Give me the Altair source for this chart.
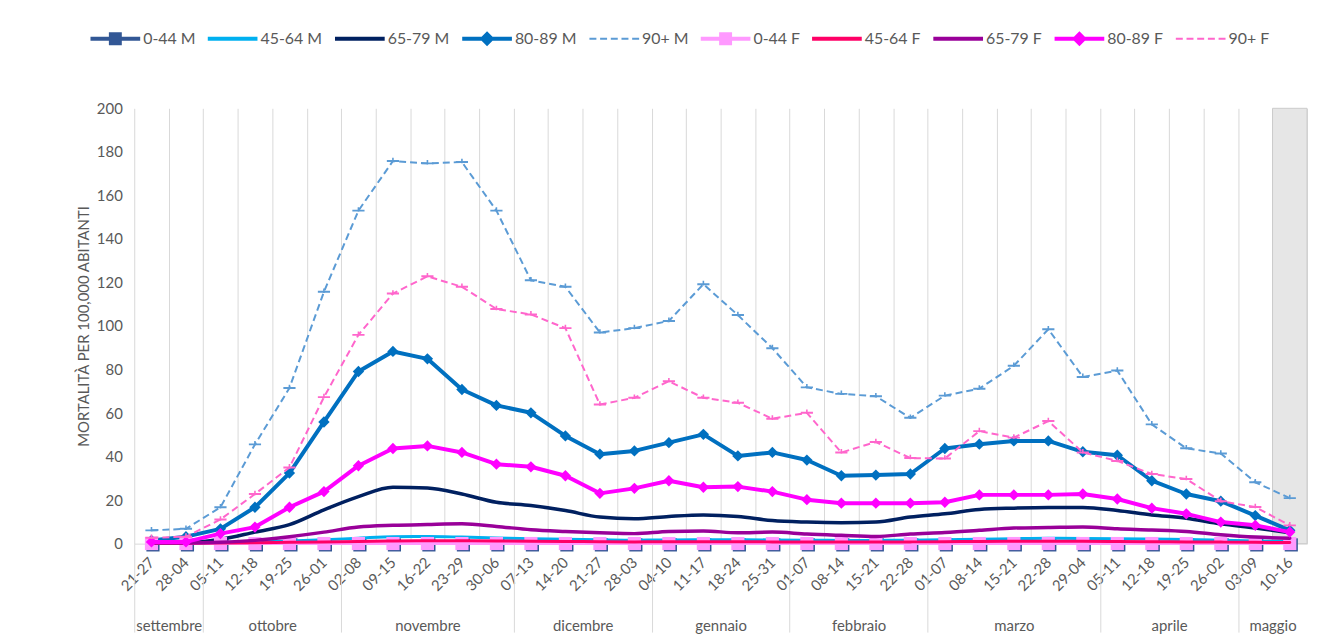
import json
import altair as alt
import pandas as pd

# ---------------- data ----------------
weeks = ["21-27", "28-04", "05-11", "12-18", "19-25", "26-01", "02-08", "09-15",
         "16-22", "23-29", "30-06", "07-13", "14-20", "21-27", "28-03", "04-10",
         "11-17", "18-24", "25-31", "01-07", "08-14", "15-21", "22-28", "01-07",
         "08-14", "15-21", "22-28", "29-04", "05-11", "12-18", "19-25", "26-02",
         "03-09", "10-16"]
month_names = ["settembre", "ottobre", "novembre", "dicembre", "gennaio",
               "febbraio", "marzo", "aprile", "maggio"]
month_first_week = [0, 2, 6, 11, 15, 19, 23, 28, 32]
shaded_weeks = [33]  # partial week

series_names = ["0-44 M", "45-64 M", "65-79 M", "80-89 M", "90+ M",
                "0-44 F", "45-64 F", "65-79 F", "80-89 F", "90+ F"]

m_0_44 = [0.1] * 34
m_45_64 = [0.3, 0.3, 0.5, 0.8, 1.2, 1.8, 2.5, 3.2, 3.3, 3.0, 2.6, 2.3, 2.0, 1.8, 1.6, 1.7, 1.8,
           1.8, 1.7, 1.6, 1.5, 1.5, 1.6, 1.8, 2.0, 2.3, 2.5, 2.4, 2.3, 2.1, 1.9, 1.6, 1.2, 1.0]
m_65_79 = [0.5, 0.5, 2.0, 5.3, 8.7, 15.5, 21.6, 25.9, 25.6, 22.8, 19.0, 17.5, 15.2, 12.2, 11.4,
           12.5, 13.2, 12.5, 10.6, 9.9, 9.6, 9.9, 12.2, 13.7, 15.7, 16.3, 16.6, 16.6, 15.2,
           13.2, 11.7, 9.1, 7.2, 5.0]
m_80_89 = [1.5, 3.2, 6.8, 16.7, 32.4, 55.9, 79.1, 88.3, 84.9, 70.8, 63.5, 60.1, 49.5, 41.1,
           42.6, 46.4, 50.2, 40.3, 41.9, 38.4, 31.2, 31.5, 32.0, 43.7, 45.7, 47.2, 47.2, 42.2,
           40.6, 28.9, 22.8, 19.5, 12.9, 6.1]
m_90 = [6.1, 6.8, 16.7, 45.6, 71.5, 115.7, 153.0, 175.8, 174.7, 175.3, 153.0, 121.0, 118.0,
        97.0, 99.0, 102.3, 119.2, 105.0, 89.8, 71.8, 68.8, 67.7, 57.8, 68.0, 71.2, 81.7, 98.5,
        76.6, 79.5, 54.8, 43.8, 41.4, 28.2, 20.9]
f_0_44 = [0.05] * 34
f_45_64 = [0.2, 0.2, 0.3, 0.4, 0.6, 0.8, 1.0, 1.2, 1.3, 1.3, 1.2, 1.1, 1.0, 0.9, 0.8, 0.9, 0.9,
           0.9, 0.8, 0.8, 0.7, 0.7, 0.8, 0.9, 1.0, 1.1, 1.1, 1.1, 1.0, 0.9, 0.8, 0.7, 0.6, 0.5]
f_65_79 = [0.3, 0.3, 0.6, 1.5, 3.2, 5.3, 7.6, 8.4, 8.8, 9.1, 7.9, 6.4, 5.6, 5.0, 4.6, 5.6, 5.8,
           5.0, 5.3, 4.4, 3.8, 3.3, 4.4, 5.1, 6.1, 7.2, 7.4, 7.6, 6.8, 6.3, 5.6, 4.1, 3.0, 2.5]
f_80_89 = [0.8, 0.8, 4.6, 7.6, 16.7, 23.9, 35.8, 43.7, 44.9, 41.9, 36.5, 35.3, 31.2, 23.1, 25.4,
           28.9, 25.9, 26.2, 23.9, 20.2, 18.6, 18.6, 18.6, 19.0, 22.4, 22.4, 22.4, 22.8, 20.5,
           16.3, 13.7, 9.9, 8.4, 5.3]
f_90 = [2.7, 3.2, 11.1, 22.8, 35.0, 67.3, 95.9, 114.9, 122.8, 118.0, 107.8, 105.3, 99.0, 63.9,
        67.0, 74.6, 67.0, 64.7, 57.4, 60.1, 41.9, 46.7, 39.3, 39.1, 51.7, 48.7, 56.3, 41.9,
        38.0, 32.0, 29.7, 19.5, 16.8, 8.4]

series_values = [m_0_44, m_45_64, m_65_79, m_80_89, m_90,
                 f_0_44, f_45_64, f_65_79, f_80_89, f_90]

rows = []
for name, vals in zip(series_names, series_values):
    for i, v in enumerate(vals):
        rows.append({"i": i, "series": name, "value": v})
df = pd.DataFrame(rows)

# ---------------- styles ----------------
FONT = "Lato"
GREY = "#595959"
GRID = "#d9d9d9"
W, H = 1180, 438
Y_TITLE = "MORTALITÀ PER 100,000 ABITANTI"

colors = ["#325795", "#00B0F0", "#002060", "#0070C0", "#5B9BD5",
          "#FF99FF", "#FF0066", "#990099", "#FF00FF", "#FF66CC"]

LINE = "M-5,-0.4H5V0.4H-5Z"
SQUARE = " M-1.3,-1.3H1.3V1.3H-1.3Z"
DIAMOND = " M0,-1.5L1.5,0L0,1.5L-1.5,0Z"
DASHED = ("M-5,-0.22H-3.6V0.22H-5Z M-2.85,-0.22H-1.45V0.22H-2.85Z "
          "M-0.7,-0.22H0.7V0.22H-0.7Z M1.45,-0.22H2.85V0.22H1.45Z "
          "M3.6,-0.22H5V0.22H3.6Z")
legend_paths = [LINE + SQUARE, LINE, LINE, LINE + DIAMOND, DASHED,
                LINE + SQUARE, LINE, LINE, LINE + DIAMOND, DASHED]

DASH_MARK = "M-1,-0.16H1V0.16H-1Z M-0.13,-0.55H0.13V0.2H-0.13Z"

styles = {
    "0-44 M": dict(width=3, interp="monotone", marker="square", msize=175, off=1.5),
    "45-64 M": dict(width=3, interp="monotone"),
    "65-79 M": dict(width=3.5, interp="monotone"),
    "80-89 M": dict(width=4, interp="linear", marker="diamond", msize=130),
    "90+ M": dict(width=2, interp="linear", dash=[7, 4], marker=DASH_MARK, msize=150),
    "0-44 F": dict(width=3, interp="monotone", marker="square", msize=175),
    "45-64 F": dict(width=3, interp="monotone"),
    "65-79 F": dict(width=3.5, interp="monotone"),
    "80-89 F": dict(width=4, interp="linear", marker="diamond", msize=130),
    "90+ F": dict(width=2, interp="linear", dash=[7, 4], marker=DASH_MARK, msize=150),
}

# ---------------- scales & axes ----------------
n = len(weeks)
xscale = alt.Scale(domain=[-0.5, n - 0.5], nice=False, zero=False)
yscale = alt.Scale(domain=[0, 200], nice=False)

month_bounds = [f - 0.5 for f in month_first_week]
nexts = month_first_week[1:] + [n]
month_centers = [(a + b) / 2 - 0.5 for a, b in zip(month_first_week, nexts)]

grid_axis = alt.Axis(values=[k - 0.5 for k in range(n + 1)], grid=True, gridColor=GRID,
                     gridWidth=1, labels=False, ticks=False, domain=False, orient="bottom")
week_axis = alt.Axis(values=list(range(n)), labelExpr=f"{json.dumps(weeks)}[datum.value]",
                     labelAngle=-45, labelAlign="right", labelBaseline="middle",
                     labelPadding=16, ticks=False, grid=False, domain=True,
                     domainColor=GRID, domainWidth=1, labelFont=FONT, labelFontSize=15,
                     labelColor=GREY, labelOverlap=False, orient="bottom")
month_axis = alt.Axis(values=month_centers,
                      labelExpr=f"{json.dumps(month_names)}[indexof({json.dumps(month_centers)}, datum.value)]",
                      labelAngle=0, labelAlign="center", labelBaseline="middle",
                      labelPadding=82, ticks=False, grid=False, domain=False,
                      labelFont=FONT, labelFontSize=15, labelColor=GREY,
                      labelOverlap=False, orient="bottom")
sep_axis = alt.Axis(values=month_bounds, ticks=True, tickSize=89, tickColor=GRID,
                    tickWidth=1, labels=False, grid=False, domain=False, orient="bottom")
y_axis = alt.Axis(values=list(range(0, 201, 20)), grid=False, ticks=False, domain=False,
                  labelFont=FONT, labelFontSize=15, labelColor=GREY, labelPadding=12,
                  titleFont=FONT, titleFontSize=15, titleFontWeight="normal",
                  titleColor=GREY, titlePadding=5)


def X(axis=None):
    return alt.X("i:Q", scale=xscale, axis=axis, title=None)


def Y():
    # same axis definition in every layer so that the shared axis merges cleanly
    return alt.Y("value:Q", scale=yscale, axis=y_axis, title=Y_TITLE)


# ---------------- layers ----------------
band = alt.Chart(pd.DataFrame({"i": shaded_weeks})).transform_calculate(
    x0="datum.i - 0.5", x1="datum.i + 0.5"
).mark_rect(fill="#e6e6e6", stroke="#cccccc", strokeWidth=1).encode(
    x=alt.X("x0:Q", scale=xscale, axis=grid_axis, title=None),
    x2="x1:Q",
    y=alt.value(0),
    y2=alt.value("height"),
)

layers = [band]
extra_axes = {0: week_axis, 1: month_axis, 2: sep_axis}
for k, (name, col) in enumerate(zip(series_names, colors)):
    st = styles[name]
    base = alt.Chart(df).transform_filter(alt.datum.series == name)
    line_kw = dict(color=col, strokeWidth=st["width"], interpolate=st["interp"],
                   strokeCap="round", strokeJoin="round")
    if "dash" in st:
        line_kw["strokeDash"] = st["dash"]
        line_kw["strokeCap"] = "butt"
    line = base.mark_line(**line_kw).encode(x=X(extra_axes.get(k)), y=Y())
    layers.append(line)
    if "marker" in st:
        enc = dict(x=X(), y=Y())
        if "off" in st:
            enc["xOffset"] = alt.value(st["off"])
            enc["yOffset"] = alt.value(st["off"])
        pts = base.mark_point(shape=st["marker"], filled=True, size=st["msize"],
                              color=col, opacity=1).encode(**enc)
        layers.append(pts)

legend = alt.Legend(orient="none", legendX=-27, legendY=-78, direction="horizontal",
                    columns=10, symbolSize=100, symbolStrokeWidth=0, labelFont=FONT,
                    labelFontSize=16, labelColor=GREY, labelOffset=20, columnPadding=12)
legend_layer = alt.Chart(pd.DataFrame({"series": series_names})).transform_calculate(
    i="0", value="-100"
).mark_point(filled=True, clip=True, size=100, opacity=1).encode(
    x=X(),
    y=Y(),
    color=alt.Color("series:N", scale=alt.Scale(domain=series_names, range=colors),
                    sort=series_names, legend=legend, title=None),
    shape=alt.Shape("series:N", scale=alt.Scale(domain=series_names, range=legend_paths),
                    sort=series_names, legend=legend, title=None),
)
layers.append(legend_layer)

chart = alt.layer(*layers).resolve_scale(x="independent").properties(
    width=W, height=H,
    autosize=alt.AutoSizeParams(type="none"),
    padding={"left": 127, "top": 99, "right": 5, "bottom": 89},
).configure_view(strokeWidth=0)

chart.save("out.html", embed_options={"renderer": "svg", "actions": False})
